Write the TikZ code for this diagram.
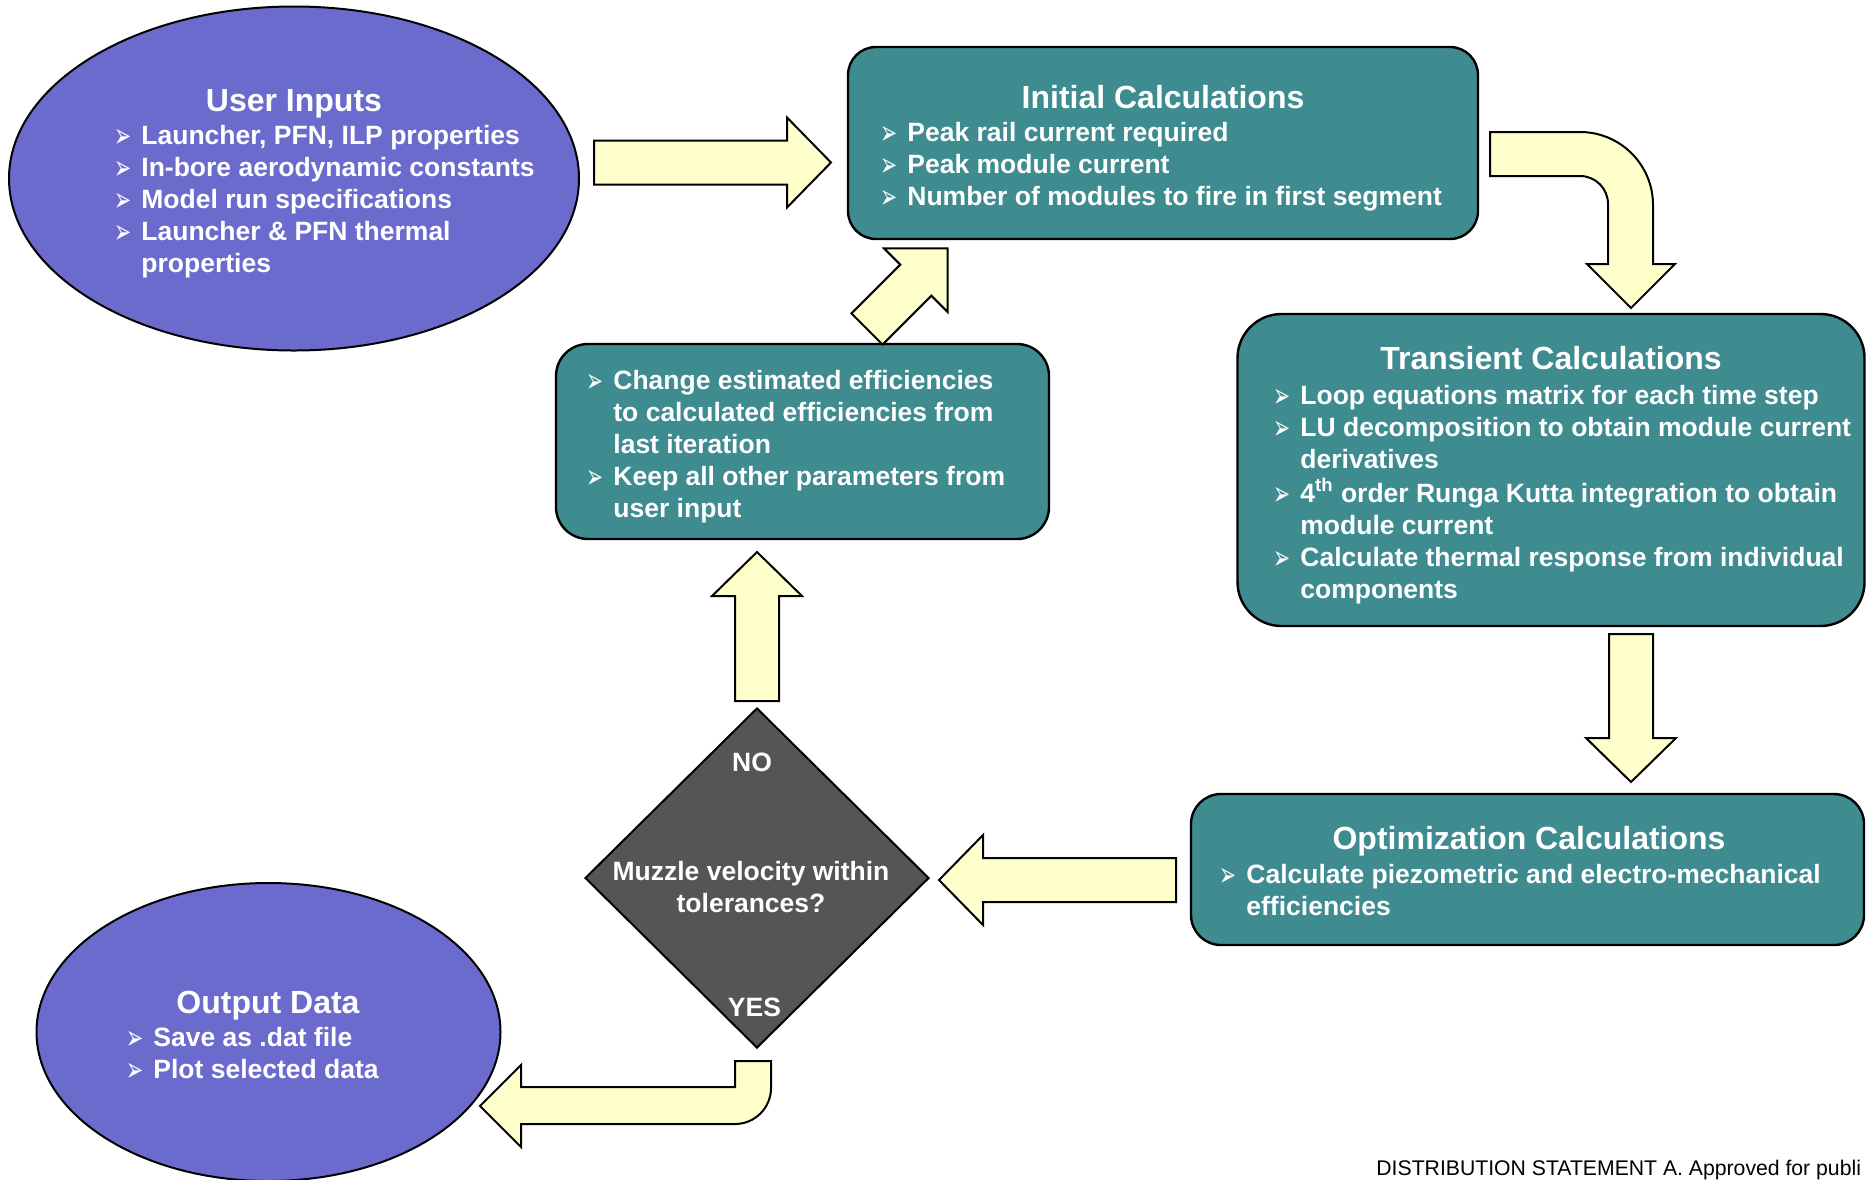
\documentclass[tikz,border=0pt]{standalone}
\usepackage{fontspec}
\usepackage{graphicx}
\setmainfont{Liberation Sans}
\newfontfamily\bulfont{DejaVu Sans}
\usetikzlibrary{shapes.geometric}
\definecolor{ovalblue}{HTML}{6B6BCE}
\definecolor{tealbox}{HTML}{3E8B90}
\definecolor{dgray}{HTML}{555555}
\definecolor{ylw}{HTML}{FFFFCC}
\newcommand{\bul}{{\bulfont\fontsize{17}{17}\selectfont\raisebox{-1.6pt}{\scalebox{0.6}[1]{➢}}}}
\newcommand{\blist}[1]{\begin{tabular}[t]{@{}p{13.5pt}@{}l@{}}#1\end{tabular}}
\newcommand{\blockarrow}[6]{%
  \filldraw[barrow, shift={(#1)}, rotate=#2] (0,-#4) -- (#3-#6,-#4) -- (#3-#6,-#5) -- (#3,0) -- (#3-#6,#5) -- (#3-#6,#4) -- (0,#4) -- cycle;}
\tikzset{
  oval/.style={ellipse, draw=black, line width=1pt, fill=ovalblue, inner sep=0pt},
  tbox/.style={rectangle, draw=black, line width=1.2pt, fill=tealbox, inner sep=0pt},
  dia/.style={diamond, draw=black, line width=1pt, fill=dgray, inner sep=0pt},
  barrow/.style={draw=black, line width=1pt, fill=ylw, line join=miter},
  ttl/.style={inner sep=0pt, text=white, font=\fontsize{16}{19}\selectfont\bfseries, anchor=base},
  blt/.style={inner sep=0pt, text=white, font=\fontsize{13.25}{16}\selectfont\bfseries, anchor=base west},
  dtxt/.style={inner sep=0pt, text=white, font=\fontsize{13.25}{16}\selectfont\bfseries, anchor=base}
}
\begin{document}
\begin{tikzpicture}[x=0.5pt,y=-0.5pt]
\useasboundingbox (0,0) rectangle (1866,1179);
\clip (0,0) rectangle (1866,1179);

% shapes
\node[oval, minimum width=285pt, minimum height=172pt] (ui) at (294,178.5) {};
\node[oval, minimum width=232pt, minimum height=149pt] (out) at (268.5,1032) {};
\node[tbox, rounded corners=14pt, minimum width=315pt, minimum height=96pt] (init) at (1163,143) {};
\node[tbox, rounded corners=22pt, minimum width=313.5pt, minimum height=156pt] (trans) at (1551,470) {};
\node[tbox, rounded corners=16pt, minimum width=246.5pt, minimum height=97.5pt] (chg) at (802.5,441.5) {};
\node[tbox, rounded corners=15pt, minimum width=336.5pt, minimum height=75.5pt] (opt) at (1527.5,869.5) {};
\node[dia, minimum width=172pt, minimum height=170pt] (dec) at (757,878) {};

% texts
\node[ttl] (uiT) at (294,111.5) {User Inputs};
\node[blt] (uiB) at (114,144) {\blist{%
\bul & Launcher, PFN, ILP properties\\
\bul & In-bore aerodynamic constants\\
\bul & Model run specifications\\
\bul & Launcher \& PFN thermal\\
 & properties}};

\node[ttl] (initT) at (1163,108) {Initial Calculations};
\node[blt] (initB) at (880,141.5) {\blist{%
\bul & Peak rail current required\\
\bul & Peak module current\\
\bul & Number of modules to fire in first segment}};

\node[ttl] (transT) at (1551,369.5) {Transient Calculations};
\node[blt] (transB) at (1273,404.5) {\blist{%
\bul & Loop equations matrix for each time step\\
\bul & LU decomposition to obtain module current\\
 & derivatives\\
\bul & 4\textsuperscript{th} order Runga Kutta integration to obtain\\
 & module current\\
\bul & Calculate thermal response from individual\\
 & components}};

\node[blt] (chgB) at (586,389.5) {\blist{%
\bul & Change estimated efficiencies\\
 & to calculated efficiencies from\\
 & last iteration\\
\bul & Keep all other parameters from\\
 & user input}};

\node[ttl] (optT) at (1529,849.5) {Optimization Calculations};
\node[blt] (optB) at (1219,883) {\blist{%
\bul & Calculate piezometric and electro-mechanical\\
 & efficiencies}};

\node[ttl] (outT) at (268,1013.5) {Output Data};
\node[blt] (outB) at (126,1046) {\blist{%
\bul & Save as .dat file\\
\bul & Plot selected data}};

\node[dtxt] (no) at (752,771.5) {NO};
\node[dtxt] (q) at (751,880.5) {\begin{tabular}[t]{@{}c@{}}Muzzle velocity within\\tolerances?\end{tabular}};
\node[dtxt] (yes) at (754.5,1016.5) {YES};

\node[inner sep=0pt, anchor=base west, font=\fontsize{10.6}{12}\selectfont] (dist) at (1376,1175) {DISTRIBUTION STATEMENT A. Approved for publi};

% block arrows
\coordinate (a1s) at (594,162.5);
\coordinate (a3s) at (1631,634);
\coordinate (a4s) at (1176,880);
\coordinate (a5s) at (757,701);
\coordinate (a6s) at (867,329);
\blockarrow{a1s}{0}{237}{22}{45}{44}
\blockarrow{a3s}{-90}{148}{22}{45}{44}
\blockarrow{a4s}{180}{237}{22}{45}{44}
\blockarrow{a5s}{90}{149}{22}{45}{44}
\blockarrow{a6s}{45}{114}{22}{45}{45}

% curved arrow init -> transient
\filldraw[barrow] (1490,132) -- (1580,132) .. controls (1620.3,132) and (1653,164.7) .. (1653,205)
  -- (1653,264) -- (1675,264) -- (1631,308) -- (1587,264) -- (1608,264) -- (1608,204)
  .. controls (1608,188.5) and (1595.5,176) .. (1580,176) -- (1490,176) -- cycle;

% bent arrow decision -> output
\filldraw[barrow] (771,1061) -- (771,1088) .. controls (771,1107.9) and (754.9,1124) .. (735,1124)
  -- (521,1124) -- (521,1147) -- (480,1106) -- (521,1065) -- (521,1087) -- (735,1087) -- (735,1061) -- cycle;
\end{tikzpicture}
\end{document}
